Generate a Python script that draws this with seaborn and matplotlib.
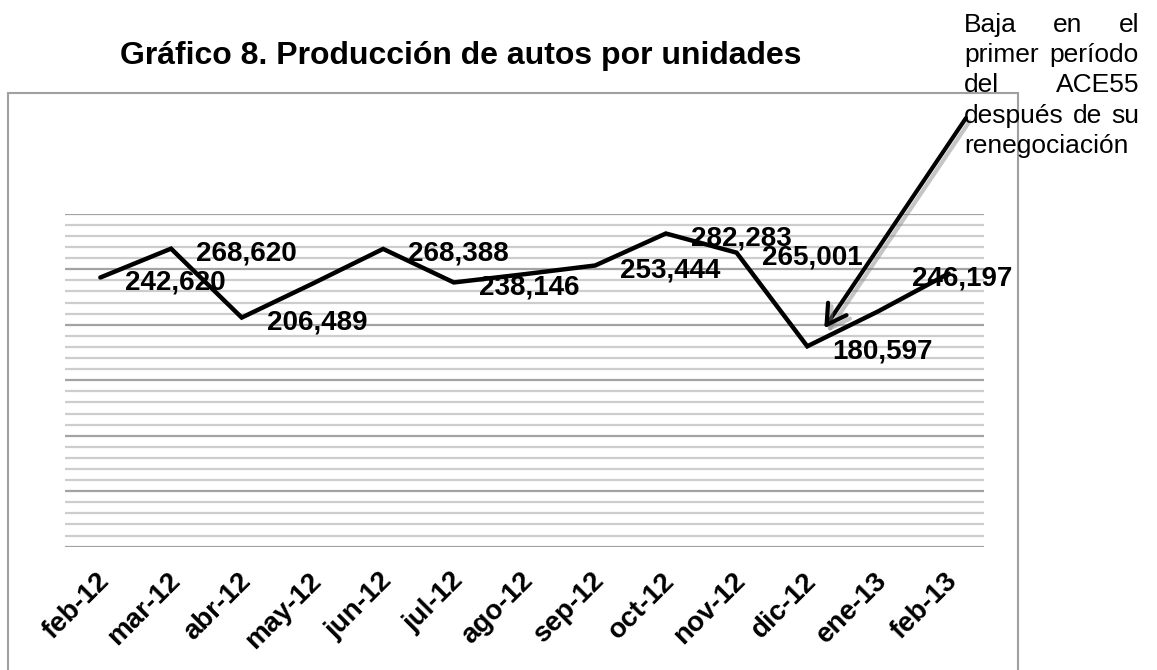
import numpy as np
import pandas as pd
import matplotlib
matplotlib.use("Agg")
import matplotlib.pyplot as plt
import matplotlib.transforms as mtransforms
import matplotlib.patheffects as pe
from matplotlib.patches import Rectangle
import seaborn as sns

# ---- data ----
months = ["feb-12", "mar-12", "abr-12", "may-12", "jun-12", "jul-12", "ago-12",
          "sep-12", "oct-12", "nov-12", "dic-12", "ene-13", "feb-13"]
units = [242620, 268620, 206489, 237000, 268388, 238146, 245600,
         253444, 282283, 265001, 180597, 212000, 246197]
point_labels = ["242,620", "268,620", "206,489", None, "268,388", "238,146", None,
                "253,444", "282,283", "265,001", "180,597", None, "246,197"]
title = "Gráfico 8. Producción de autos por unidades"
note_lines = ["Baja en el", "primer período", "del ACE55", "después de su", "renegociación"]

sns.set_theme(style="white")
plt.rcParams["font.family"] = ["Liberation Sans", "DejaVu Sans"]

W, H = 1157, 670
fig = plt.figure(figsize=(W / 100, H / 100), dpi=100)
fig.patch.set_facecolor("white")

ax = fig.add_axes([65 / W, 1 - 547 / H, (984 - 65) / W, (547 - 213.5) / H])

df = pd.DataFrame({"pos": np.arange(len(months)), "unidades": units})
sns.lineplot(data=df, x="pos", y="unidades", ax=ax, color="black", linewidth=3.2,
             sort=False, solid_joinstyle="miter", zorder=3)

ax.set_xlim(-0.5, len(months) - 0.5)
ax.set_ylim(-300, 300300)
ax.set_yticks(np.arange(0, 300001, 50000))
ax.set_yticks(np.arange(0, 300001, 10000), minor=True)
ax.yaxis.grid(True, which="major", color="#a3a3a3", linewidth=1.6)
ax.yaxis.grid(True, which="minor", color="#cdcdcd", linewidth=1.6)
ax.xaxis.grid(False)
ax.set_axisbelow(True)
ax.tick_params(axis="y", which="both", length=0, labelleft=False)
ax.set_xticks(np.arange(len(months)))
ax.set_xticklabels(months, rotation=45, ha="right", va="top",
                   rotation_mode="anchor", fontsize=20, fontweight="bold")
ax.tick_params(axis="x", length=0, pad=15, colors="black")
shift = mtransforms.ScaledTranslation(-4 / 100, 0, fig.dpi_scale_trans)
for lbl in ax.get_xticklabels():
    lbl.set_transform(lbl.get_transform() + shift)
ax.set_xlabel("")
ax.set_ylabel("")
for s in ax.spines.values():
    s.set_visible(False)
ax.patch.set_alpha(0)

# data labels
for i, (v, lab) in enumerate(zip(units, point_labels)):
    if lab is None:
        continue
    dx = 25 if i < len(months) - 1 else -37
    ax.annotate(lab, xy=(i, v), xytext=(dx, -12), textcoords="offset pixels",
                ha="left", va="baseline", fontsize=20, fontweight="bold",
                color="black", zorder=5)

# chart frame
frame = Rectangle((8 / W, -0.05), (1018 - 8) / W, (1 - 93 / H) + 0.05,
                  transform=fig.transFigure, fill=False, edgecolor="#a0a0a0",
                  linewidth=1.5, clip_on=False)
fig.patches.append(frame)

# title
fig.text(461 / W, 1 - 64 / H, title, ha="center", va="baseline",
         fontsize=23, fontweight="bold", color="black")

# justified note text
renderer = fig.canvas.get_renderer()
ident = mtransforms.IdentityTransform()
x0, x1 = 964, 1139
for li, line in enumerate(note_lines):
    yb = H - (32 + li * 30.2)
    words = line.split()
    txts = [fig.text(0, yb, w, transform=ident, fontsize=19, ha="left",
                     va="baseline", color="black") for w in words]
    widths = [t.get_window_extent(renderer).width for t in txts]
    if li == len(note_lines) - 1 or len(words) == 1:
        gap = 6
    else:
        gap = (x1 - x0 - sum(widths)) / (len(words) - 1)
    x = x0
    for t, w in zip(txts, widths):
        t.set_position((x, yb))
        x += w + gap

# arrow pointing to the December drop
tip = mtransforms.offset_copy(ax.transData, fig=fig, x=17, y=18, units="dots")
ax.annotate("", xy=(10, units[10]), xycoords=tip,
            xytext=(966, H - 118), textcoords="figure pixels",
            arrowprops=dict(arrowstyle="->,head_length=0.69,head_width=0.4",
                            mutation_scale=20, lw=3.0, color="black",
                            shrinkA=0, shrinkB=0,
                            path_effects=[pe.SimpleLineShadow(offset=(2.5, -2.5),
                                                              shadow_color="gray",
                                                              alpha=0.45),
                                          pe.Normal()]),
            annotation_clip=False, zorder=6)

fig.savefig("out.png", dpi=100, facecolor="white")
